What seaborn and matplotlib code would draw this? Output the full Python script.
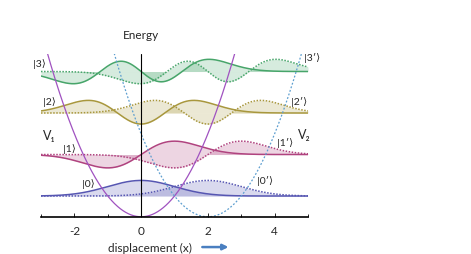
import numpy as np
import matplotlib.pyplot as plt
import seaborn as sns
from math import factorial
from numpy.polynomial.hermite import hermval

# levels of the two displaced oscillators (energy in units of hbar*omega)
levels = [0, 1, 2, 3]
energies = [0.5, 1.5, 2.5, 3.5]
center_1 = 0.0
center_2 = 2.0
amp = 0.5
line_colors = ['#5656b2', '#b0437f', '#a8973d', '#47a56a']
ket_labels = ['|0⟩', '|1⟩', '|2⟩', '|3⟩']
ket_xy = [(-1.57, 0.81), (-2.15, 1.66), (-2.75, 2.78), (-3.04, 3.70)]
prime_labels = ['|0′⟩', '|1′⟩', '|2′⟩', '|3′⟩']
prime_xy = [(3.72, 0.88), (4.31, 1.80), (4.73, 2.79), (5.13, 3.86)]
xticks = [-2, 0, 2, 4]

sns.set_theme(style='white')
plt.rcParams['font.family'] = ['Lato', 'DejaVu Sans']
plt.rcParams['axes.unicode_minus'] = False

x = np.linspace(-3, 5, 600)


def psi(n, xx):
    c = np.zeros(n + 1)
    c[n] = 1
    norm = 1 / np.sqrt(2 ** n * factorial(n)) * np.pi ** -0.25
    return norm * hermval(xx, c) * np.exp(-xx ** 2 / 2)


fig = plt.figure(figsize=(4.71, 2.55), dpi=100)
ax = fig.add_axes([0.087, 0.146, 0.567, 0.638])

for n, e, col in zip(levels, energies, line_colors):
    y1 = e + amp * psi(n, x - center_1)
    y2 = e + amp * psi(n, x - center_2)
    ax.fill_between(x, e, y1, color=col, alpha=0.22, lw=0)
    ax.fill_between(x, e, y2, color=col, alpha=0.22, lw=0)
    sns.lineplot(x=x, y=y1, ax=ax, color=col, lw=1.1)
    sns.lineplot(x=x, y=y2, ax=ax, color=col, lw=1.1, linestyle=(0, (1, 1)))

# potentials
sns.lineplot(x=x, y=(x - center_1) ** 2 / 2, ax=ax, color='#a052c0', lw=0.9)
sns.lineplot(x=x, y=(x - center_2) ** 2 / 2, ax=ax, color='#5e9fd0', lw=0.9,
             linestyle=(0, (1.5, 1.5)))

ax.set_xlim(-3, 5)
ax.set_ylim(0, 3.92)
ax.axvline(0, color='black', lw=0.8)
for s in ['top', 'right', 'left']:
    ax.spines[s].set_visible(False)
ax.spines['bottom'].set_color('black')
ax.spines['bottom'].set_linewidth(1.2)
ax.set_yticks([])
ax.set_xticks(xticks)
ax.set_xticklabels([str(t) for t in xticks])
ax.set_xticks([-3, -1, 1, 3, 5], minor=True)
ax.tick_params(axis='x', which='major', direction='in', length=3, width=0.6,
               color='black', labelsize=8.5, pad=6, bottom=True)
ax.tick_params(axis='x', which='minor', direction='in', length=2, width=0.6,
               color='black', bottom=True)

for lab, (tx, ty) in zip(ket_labels, ket_xy):
    ax.text(tx, ty, lab, fontsize=7.5, ha='center', va='center', clip_on=False)
for lab, (tx, ty) in zip(prime_labels, prime_xy):
    ax.text(tx, ty, lab, fontsize=7.5, ha='center', va='center', clip_on=False)
ax.text(-2.75, 1.97, 'V₁', fontsize=9, ha='center', va='center', clip_on=False)
ax.text(4.9, 1.99, 'V₂', fontsize=9, ha='center', va='center', clip_on=False)
ax.text(0, 4.4, 'Energy', fontsize=8.5, ha='center', va='center', clip_on=False)
ax.text(0.27, -0.73, 'displacement (x)', fontsize=8.5, ha='center', va='center',
        clip_on=False)
ax.annotate('', xy=(2.7, -0.73), xytext=(1.75, -0.73), annotation_clip=False,
            arrowprops=dict(arrowstyle='-|>', color='#4a7fc0', lw=1.8,
                            mutation_scale=8))

fig.savefig('out.png', dpi=100)
